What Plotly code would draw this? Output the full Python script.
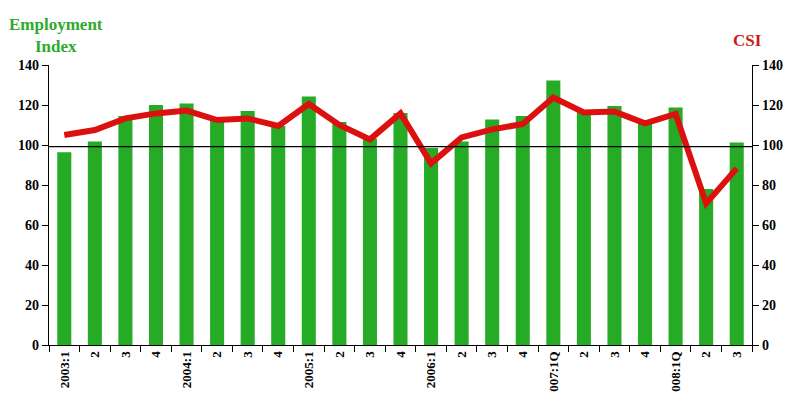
"""Employment index (bars) vs CSI (line), quarterly 2003-2008."""
import plotly.graph_objects as go

quarters = ['2003:1', '2', '3', '4',
            '2004:1', '2', '3', '4',
            '2005:1', '2', '3', '4',
            '2006:1', '2', '3', '4',
            '007:1Q', '2', '3', '4',
            '008:1Q', '2', '3']
# unique keys for the category axis (labels repeat)
quarter_keys = [f'q{i}' for i in range(len(quarters))]

employment_index = [96.4, 101.8, 114.5, 120.0, 120.7, 112.8, 117.0, 109.5,
                    124.3, 111.5, 103.3, 116.0, 98.5, 101.7, 112.8, 114.5,
                    132.2, 116.7, 119.5, 112.5, 118.8, 78.0, 101.2]
csi = [105.0, 107.5, 113.3, 115.8, 117.2, 112.5, 113.3, 109.5,
       120.5, 110.0, 102.8, 115.8, 90.8, 103.8, 107.8, 110.5,
       123.7, 116.3, 116.7, 110.8, 115.5, 70.8, 88.3]
reference_level = 99.2

serif_bold = dict(family='Liberation Serif', size=14, color='black')

fig = go.Figure()
fig.add_trace(go.Bar(x=quarter_keys, y=employment_index, name='Employment Index',
                     marker_color='#25ab25', marker_line_width=0, width=0.46))
fig.add_trace(go.Scatter(x=quarter_keys, y=csi, name='CSI', yaxis='y2',
                         mode='lines', line=dict(color='#dd1010', width=6)))

# horizontal reference line across the whole plot
fig.add_shape(type='line', xref='paper', yref='y', x0=0, x1=1,
              y0=reference_level, y1=reference_level,
              line=dict(color='black', width=1.2))

# the page body adds an 8px offset, so margins are shifted to compensate
fig.update_layout(
    width=800, height=400,
    margin=dict(l=41, r=56, t=57, b=63),
    plot_bgcolor='white', paper_bgcolor='white',
    showlegend=False, bargap=0.54,
    font=serif_bold,
    xaxis=dict(tickmode='array', tickvals=quarter_keys,
               ticktext=[f'<b>{q}</b>' for q in quarters],
               tickangle=-90, tickson='boundaries', ticks='outside',
               ticklen=6, tickcolor='black', showline=True,
               linecolor='black', linewidth=1.2, showgrid=False,
               automargin=False,
               tickfont=dict(family='Liberation Serif', size=13, color='black')),
    yaxis=dict(range=[0, 140], dtick=20, ticks='outside', ticklen=6,
               tickcolor='black', showline=True, linecolor='black',
               linewidth=1.2, showgrid=False, zeroline=False,
               automargin=False, tickprefix='<b>', ticksuffix='</b>'),
    yaxis2=dict(range=[0, 140], dtick=20, overlaying='y', side='right',
                ticks='outside', ticklen=6, tickcolor='black', showline=True,
                linecolor='black', linewidth=1.2, showgrid=False,
                zeroline=False, automargin=False,
                tickprefix='<b>', ticksuffix='</b>'),
)

fig.add_annotation(text='<b>Employment<br>Index</b>', xref='paper', yref='paper',
                   x=0.01, y=1.105, xanchor='center', yanchor='middle',
                   showarrow=False,
                   font=dict(family='Liberation Serif', size=17, color='#2eaa2e'))
fig.add_annotation(text='<b>CSI</b>', xref='paper', yref='paper',
                   x=0.994, y=1.086, xanchor='center', yanchor='middle',
                   showarrow=False,
                   font=dict(family='Liberation Serif', size=17, color='#cc1a1a'))

fig.write_html('out.html')
